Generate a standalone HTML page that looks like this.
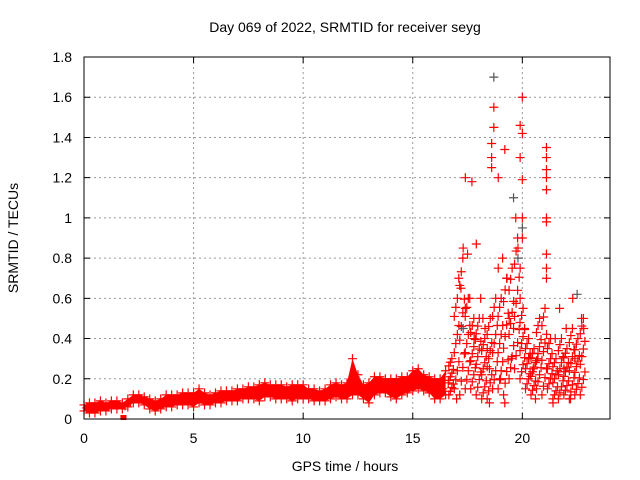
<!DOCTYPE html>
<html><head><meta charset="utf-8"><style>
body{margin:0;background:#fff}
svg{display:block;font-family:"Liberation Sans",sans-serif}
</style></head><body>
<svg id="chart" width="640" height="480">
<text x="345" y="32" font-size="14" text-anchor="middle">Day 069 of 2022, SRMTID for receiver seyg</text>
<text x="345" y="471" font-size="14" text-anchor="middle">GPS time / hours</text>
<text transform="translate(18,238) rotate(-90)" font-size="14" text-anchor="middle">SRMTID / TECUs</text>
<g id="gridG"></g><g id="ticksG"></g><g id="marksG"></g>
<rect x="84" y="57" width="526" height="362" fill="none" stroke="#000" stroke-width="1"/>
</svg>
<script>
const xTicks=[0,5,10,15,20];
const yTicks=[0,0.2,0.4,0.6,0.8,1,1.2,1.4,1.6,1.8];
const yTickLabels=["0","0.2","0.4","0.6","0.8","1","1.2","1.4","1.6","1.8"];
const bandStart=0, bandStep=0.25;
const bandLo=[.04,.03,.03,.04,.04,.05,.05,.05,.06,.08,.08,.07,.05,.04,.05,.06,.06,.07,.07,.07,.06,.08,.07,.07,.08,.08,.09,.09,.09,.1,.1,.1,.09,.11,.11,.1,.1,.1,.09,.1,.1,.1,.09,.09,.09,.1,.11,.1,.1,.12,.12,.1,.08,.12,.13,.13,.11,.1,.12,.13,.14,.15,.14,.13,.1,.1,.12];
const bandHi=[.07,.08,.08,.09,.08,.09,.09,.08,.1,.12,.12,.11,.1,.09,.1,.12,.12,.12,.13,.13,.13,.15,.13,.12,.13,.14,.14,.14,.15,.15,.16,.16,.17,.18,.17,.17,.17,.16,.17,.17,.17,.15,.15,.14,.15,.17,.18,.17,.18,.3,.22,.17,.18,.21,.21,.2,.2,.2,.21,.21,.24,.25,.22,.21,.2,.2,.24];
const spikyStart=16.75;
const spikyLo=[.12,.15,.12,.15,.15,.12,.1,.1,.15,.15,.12,.2,.25,.2,.15,.12,.15,.12,.15,.1,.1,.12,.1,.12,.12];
const spikyHi=[.3,.6,.8,.6,.5,.5,.4,.5,.6,.6,.7,.75,.9,.55,.4,.35,.5,.55,.4,.3,.4,.35,.45,.4,.5];
const extraT=[17.4,17.7,17.3,17.5,18.7,18.7,18.6,18.6,18.6,18.9,19.2,20.0,19.9,20.0,19.9,20,20,20,19.7,19.8,19.9,21.1,21.1,21.1,21.1,21.1,21.1,21.1,21.1,21.1,21.1,17.1,17.2,17.4,17.6,17.9,18.1,18.2,18.3,18.4,18.9,19.1,19.3,19.4,19.6,19.9,20.1,20.3,20.5,21.5,21.7,22.0,22.3,22.7,22.8,17.8,18.5,19.0,19.5,20.7,21.9,22.4,17,18.5,19.2,20.6,21.4,22.2];
const extraV=[1.2,1.18,.85,.82,1.55,1.45,1.37,1.3,1.25,1.2,1.34,1.6,1.46,1.42,1.3,1.19,1.0,.9,1.0,.85,.75,1.35,1.3,1.24,1.2,1.14,1.0,.98,.82,.75,.7,.7,.65,.55,.6,.87,.6,.5,.45,.35,.75,.8,.7,.5,.45,.6,.45,.3,.25,.4,.55,.45,.6,.5,.45,.4,.25,.2,.3,.3,.25,.3,.1,.08,.08,.1,.08,.1];
const greyT=[18.7,19.6,20.0,22.5,17.3,19.8];
const greyV=[1.7,1.1,.95,.62,.45,.8];
const X=t=>84+t*(526/24), Y=v=>419-v*(362/1.8);
const NS="http://www.w3.org/2000/svg";
function mk(tag,attrs,parent){const e=document.createElementNS(NS,tag);for(const k in attrs)e.setAttribute(k,attrs[k]);parent.appendChild(e);return e;}
const gridG=document.getElementById('gridG'),ticksG=document.getElementById('ticksG'),marksG=document.getElementById('marksG');
xTicks.forEach(t=>{
 if(t>0){const g=mk('line',{x1:X(t),x2:X(t),y1:57,y2:419,stroke:'#999','stroke-dasharray':'2,3'},gridG);
 
 }
 const tk=mk('path',{d:`M${X(t)},419v-6M${X(t)},57v6`,stroke:'#000'},ticksG);
 
 
 const l=mk('text',{x:X(t),y:443,'font-size':14,'text-anchor':'middle'},ticksG);l.textContent=t;
 
 
});
yTicks.forEach((v,i)=>{
 if(v>0&&v<1.8){const g=mk('line',{x1:84,x2:610,y1:Y(v),y2:Y(v),stroke:'#999','stroke-dasharray':'2,3'},gridG);
 
 }
 const tk=mk('path',{d:`M84,${Y(v)}h6M610,${Y(v)}h-6`,stroke:'#000'},ticksG);
 
 
 const l=mk('text',{x:72,y:Y(v)+5,'font-size':14,'text-anchor':'end'},ticksG);l.textContent=yTickLabels[i];
 
 
});
function plus(t,v,col){const x=X(t),y=Y(v);
 const p=mk('path',{d:`M${x-4.5},${y}h9M${x},${y-4.5}v9`,stroke:col,'stroke-width':1.2},marksG);
 
 }
let bandTop='',bandBot='';
bandLo.forEach((v,i)=>{const t=bandStart+i*bandStep;bandTop+=(i?'L':'M')+X(t)+','+Y(bandHi[i]);});
for(let i=bandLo.length-1;i>=0;i--){const t=bandStart+i*bandStep;bandBot+='L'+X(t)+','+Y(bandLo[i]);}
const band=mk('path',{d:bandTop+bandBot+'Z',fill:'#f00'},marksG);


bandLo.forEach((v,i)=>{const t=bandStart+i*bandStep;plus(t,v,'#f00');plus(t,bandHi[i],'#f00');plus(t+0.12,(v+bandHi[i])/2,'#f00');});
spikyLo.forEach((v,i)=>{const t=spikyStart+i*0.25,h=spikyHi[i];
 for(let k=0;k<=10;k++){plus(t+(k%4-1.5)*0.07,v+(h-v)*k/10,'#f00');}
});
extraT.forEach((t,i)=>plus(t,extraV[i],'#f00'));
greyT.forEach((t,i)=>plus(t,greyV[i],'#555'));
const sq=mk('rect',{x:X(1.8)-3,y:Y(0)-4,width:6,height:5,fill:'#f00'},marksG);


</script>
</body></html>
